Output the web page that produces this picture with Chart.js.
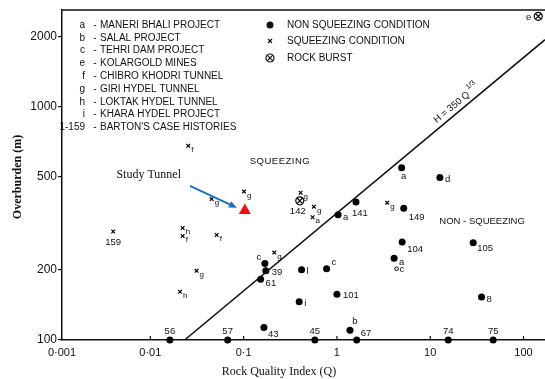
<!DOCTYPE html>
<html>
<head>
<meta charset="utf-8">
<script src="https://cdn.jsdelivr.net/npm/chart.js@4.4.0/dist/chart.umd.min.js"></script>
<style>
  html, body { margin: 0; padding: 0; background: #fff; }
</style>
</head>
<body>
<canvas id="chart" width="545" height="379"></canvas>
<script>
// ---- values ----
const xTicks = [0.00113, 0.01, 0.1, 1, 10, 100];
const xTickLabels = ['0·001', '0·01', '0·1', '1', '10', '100'];
const yTicks = [100, 200, 500, 1000, 2000];

// non squeezing condition (filled dots)
const nsQ = [4.94, 12.7, 1.6, 1.03, 5.2, 5.0, 28.9, 4.1, 0.173, 0.169, 0.152, 0.418, 0.775, 1.0, 0.394, 35.5, 0.165, 1.38, 0.58, 1.63, 15.6, 47.3, 0.0162, 0.0674];
const nsH = [548, 497, 391, 344, 367, 263, 261, 224, 198, 213, 182, 200, 202, 157, 146, 153, 113, 110, 100, 100, 100, 100, 100, 100];
const nsLbl = ['a', 'd', '141', 'a', '149', '104', '105', 'a', '39', 'c', '61', 'l', 'c', '101', 'i', '8', '43', 'b', '45', '67', '74', '75', '56', '57'];

// squeezing condition (x)
const sqQ = [0.0255, 0.101, 0.0454, 0.408, 0.567, 0.549, 3.46, 0.213, 0.0222, 0.0222, 0.0514, 0.004, 0.0313, 0.0208];
const sqH = [680, 433, 402, 428, 373, 336, 388, 237, 302, 279, 282, 292, 198, 161];
const sqLbl = ['f', 'g', 'g', 'g', 'g', 'a', 'g', 'g', 'h', 'f', 'f', '159', 'g', 'h'];

// rock burst
const rbQ = [0.40, 144];
const rbH = [395, 2443];
const rbLbl = ['142', 'e'];

// small open circle
const opQ = [4.36];
const opH = [202];
const opLbl = ['c'];

// study tunnel and its arrow
const stQ = [0.103];
const stH = [359];
const arrowQ = [0.0266, 0.0848];
const arrowH = [458, 369];

// H = 350 Q^1/3 line, ends as seen on the plot
const lineQ = [0.0233, 170];
const lineH = [100, 1940];

const legendLeft = [
  ['a', 'MANERI BHALI PROJECT'],
  ['b', 'SALAL PROJECT'],
  ['c', 'TEHRI DAM PROJECT'],
  ['e', 'KOLARGOLD MINES'],
  ['f', 'CHIBRO KHODRI TUNNEL'],
  ['g', 'GIRI HYDEL TUNNEL'],
  ['h', 'LOKTAK HYDEL TUNNEL'],
  ['i', 'KHARA HYDEL PROJECT'],
  ['1-159', "BARTON'S CASE HISTORIES"]
];
const legendRight = ['NON SQUEEZING CONDITION', 'SQUEEZING CONDITION', 'ROCK BURST'];

// label placement next to each mark: [dx, dy, align]
const nsOff = [[2, 9, 'center'], [5, 2, 'left'], [4, 11, 'center'], [5, 3, 'left'], [5, 9, 'left'],
  [5, 7, 'left'], [4, 6, 'left'], [5, 4, 'left'], [6, 2, 'left'], [-6, -6, 'center'], [5, 4, 'left'],
  [5, 2, 'left'], [5, -6, 'left'], [6, 1, 'left'], [5, 2, 'left'], [5, 2, 'left'], [4, 7, 'left'],
  [5, -9, 'center'], [0, -9, 'center'], [4, -7, 'left'], [0, -9, 'center'], [0, -9, 'center'],
  [0, -9, 'center'], [0, -9, 'center']];
const sqOff = sqLbl.map(l => l === '159' ? [0, 11, 'center', 9.5] : [3, 4, 'left', 8]);
const rbOff = [[-2, 11, 'center'], [-7, 1, 'right']];
const opOff = [[3, 1, 'left']];

function pts(q, h) {
  return q.map((v, i) => ({ x: v, y: h[i] }));
}

const INK = '#111';
const SANS = '"Liberation Sans", Arial, sans-serif';
const SERIF = '"Liberation Serif", "Times New Roman", serif';

const labelsPlugin = {
  id: 'pointLabels',
  afterDatasetsDraw(chart) {
    const ctx = chart.ctx;
    ctx.save();
    ctx.fillStyle = INK;
    ctx.textBaseline = 'middle';
    chart.data.datasets.forEach((ds, i) => {
      if (!ds.lbls) return;
      const meta = chart.getDatasetMeta(i);
      meta.data.forEach((el, j) => {
        const o = ds.offs[j];
        ctx.font = (o[3] || 9.5) + 'px ' + SANS;
        ctx.textAlign = o[2];
        ctx.fillText(ds.lbls[j], el.x + o[0], el.y + o[1]);
      });
    });

    // arrow pointing at the study tunnel
    const xs = chart.scales.x, ys = chart.scales.y;
    const x0 = xs.getPixelForValue(arrowQ[0]), y0 = ys.getPixelForValue(arrowH[0]);
    const x1 = xs.getPixelForValue(arrowQ[1]), y1 = ys.getPixelForValue(arrowH[1]);
    const ang = Math.atan2(y1 - y0, x1 - x0);
    ctx.strokeStyle = '#1f6fc5';
    ctx.fillStyle = '#1f6fc5';
    ctx.lineWidth = 2;
    ctx.beginPath();
    ctx.moveTo(x0, y0);
    ctx.lineTo(x1 - 5 * Math.cos(ang), y1 - 5 * Math.sin(ang));
    ctx.stroke();
    ctx.beginPath();
    ctx.moveTo(x1, y1);
    ctx.lineTo(x1 - 8 * Math.cos(ang) + 3.5 * Math.sin(ang), y1 - 8 * Math.sin(ang) - 3.5 * Math.cos(ang));
    ctx.lineTo(x1 - 8 * Math.cos(ang) - 3.5 * Math.sin(ang), y1 - 8 * Math.sin(ang) + 3.5 * Math.cos(ang));
    ctx.closePath();
    ctx.fill();

    ctx.fillStyle = INK;
    ctx.font = '12px ' + SERIF;
    ctx.textAlign = 'right';
    ctx.fillText('Study Tunnel', x0 - 9, y0 - 11);
    ctx.restore();
  },
  afterDraw(chart) {
    const ctx = chart.ctx;
    const a = chart.chartArea;
    const xs = chart.scales.x, ys = chart.scales.y;
    ctx.save();

    // top frame line
    ctx.strokeStyle = INK;
    ctx.lineWidth = 1.5;
    ctx.beginPath();
    ctx.moveTo(a.left, a.top);
    ctx.lineTo(a.right, a.top);
    ctx.stroke();

    // x ticks point inwards
    ctx.lineWidth = 1.2;
    xTicks.slice(1).forEach(v => {
      const px = xs.getPixelForValue(v);
      ctx.beginPath();
      ctx.moveTo(px, a.bottom);
      ctx.lineTo(px, a.bottom - 4);
      ctx.stroke();
    });

    // legend, left block
    ctx.fillStyle = INK;
    ctx.font = '10px ' + SANS;
    ctx.textBaseline = 'middle';
    legendLeft.forEach((row, i) => {
      const y = a.top + 15 + i * 12.8;
      ctx.textAlign = 'right';
      ctx.fillText(row[0], a.left + 23, y);
      ctx.textAlign = 'center';
      ctx.fillText('-', a.left + 33, y);
      ctx.textAlign = 'left';
      ctx.fillText(row[1], a.left + 38, y);
    });

    // legend, right block with symbols
    const sx = a.left + 208;
    const ry = [a.top + 15, a.top + 31, a.top + 48];
    legendRight.forEach((t, i) => {
      ctx.textAlign = 'left';
      ctx.fillText(t, a.left + 225, ry[i]);
    });
    ctx.beginPath();
    ctx.arc(sx, ry[0], 3.5, 0, Math.PI * 2);
    ctx.fill();
    ctx.lineWidth = 1.2;
    ctx.beginPath();
    ctx.moveTo(sx - 2, ry[1] - 2); ctx.lineTo(sx + 2, ry[1] + 2);
    ctx.moveTo(sx + 2, ry[1] - 2); ctx.lineTo(sx - 2, ry[1] + 2);
    ctx.stroke();
    ctx.beginPath();
    ctx.arc(sx, ry[2], 4, 0, Math.PI * 2);
    ctx.moveTo(sx - 2.8, ry[2] - 2.8); ctx.lineTo(sx + 2.8, ry[2] + 2.8);
    ctx.moveTo(sx + 2.8, ry[2] - 2.8); ctx.lineTo(sx - 2.8, ry[2] + 2.8);
    ctx.stroke();

    // zone names
    ctx.font = '9.5px ' + SANS;
    ctx.textAlign = 'center';
    if ('letterSpacing' in ctx) ctx.letterSpacing = '0.5px';
    ctx.fillText('SQUEEZING', xs.getPixelForValue(0.245), ys.getPixelForValue(586));
    if ('letterSpacing' in ctx) ctx.letterSpacing = '0px';
    ctx.fillText('NON - SQUEEZING', xs.getPixelForValue(36), ys.getPixelForValue(324));

    // line label, along the line
    const lx = xs.getPixelForValue(lineQ[0]), ly = ys.getPixelForValue(lineH[0]);
    const rx = xs.getPixelForValue(lineQ[1]), rY = ys.getPixelForValue(lineH[1]);
    const ang = Math.atan2(rY - ly, rx - lx);
    const t = 0.755;
    ctx.translate(lx + (rx - lx) * t, ly + (rY - ly) * t);
    ctx.rotate(ang);
    ctx.font = '9.5px ' + SANS;
    ctx.textAlign = 'center';
    ctx.textBaseline = 'alphabetic';
    ctx.fillText('H = 350 Q', 0, -5);
    ctx.font = '7px ' + SANS;
    ctx.textAlign = 'left';
    ctx.fillText('1/3', 24, -11);
    ctx.setTransform(1, 0, 0, 1, 0, 0);

    // axis titles
    ctx.font = '12px ' + SERIF;
    ctx.textAlign = 'center';
    ctx.textBaseline = 'middle';
    ctx.fillText('Rock Quality Index (Q)', 279, a.bottom + 32);
    ctx.translate(18, (a.top + a.bottom) / 2 + 2);
    ctx.rotate(-Math.PI / 2);
    ctx.font = 'bold 12px ' + SERIF;
    ctx.fillText('Overburden (m)', 0, 0);
    ctx.restore();
  }
};

const chart = new Chart(document.getElementById('chart'), {
  type: 'scatter',
  data: {
    datasets: [
      {
        data: pts(lineQ, lineH),
        showLine: true,
        borderColor: INK,
        borderWidth: 1.5,
        pointRadius: 0
      },
      {
        data: pts(nsQ, nsH),
        lbls: nsLbl, offs: nsOff,
        clip: 6,
        pointStyle: 'circle',
        pointRadius: 3.5,
        backgroundColor: '#000',
        borderColor: '#000',
        borderWidth: 0
      },
      {
        data: pts(opQ, opH),
        lbls: opLbl, offs: opOff,
        pointStyle: 'circle',
        pointRadius: 1.8,
        backgroundColor: '#fff',
        borderColor: '#000',
        borderWidth: 1
      },
      {
        data: pts(sqQ, sqH),
        lbls: sqLbl, offs: sqOff,
        pointStyle: 'crossRot',
        pointRadius: 2.6,
        borderColor: '#000',
        borderWidth: 1.2
      },
      {
        // cross drawn above the circle (earlier datasets sit on top)
        data: pts(rbQ, rbH),
        clip: 6,
        pointStyle: 'crossRot',
        pointRadius: 4,
        borderColor: '#000',
        borderWidth: 1.2
      },
      {
        data: pts(rbQ, rbH),
        lbls: rbLbl, offs: rbOff,
        clip: 6,
        pointStyle: 'circle',
        pointRadius: 4,
        backgroundColor: '#fff',
        borderColor: '#000',
        borderWidth: 1.2
      },
      {
        data: pts(stQ, stH),
        pointStyle: 'triangle',
        pointRadius: 7,
        backgroundColor: '#ee1111',
        borderColor: '#ee1111',
        borderWidth: 0
      }
    ]
  },
  options: {
    responsive: false,
    animation: false,
    layout: { autoPadding: false, padding: { top: 10, right: 0, left: 0, bottom: 0 } },
    plugins: { legend: { display: false }, tooltip: { enabled: false } },
    scales: {
      x: {
        type: 'logarithmic',
        min: 0.00113,
        max: 170,
        afterFit: s => { s.height = 39; s.paddingLeft = 0; s.paddingRight = 0; },
        afterBuildTicks: s => { s.ticks = xTicks.map(v => ({ value: v })); },
        grid: { display: false, drawTicks: false },
        border: { display: true, color: INK, width: 1.5 },
        ticks: {
          padding: 6,
          autoSkip: false,
          maxRotation: 0,
          color: INK,
          font: { family: SANS, size: 11 },
          callback: (v, i) => xTickLabels[i]
        }
      },
      y: {
        type: 'logarithmic',
        min: 100,
        max: 2600,
        afterFit: s => { s.width = 62; s.paddingTop = 0; s.paddingBottom = 0; },
        afterBuildTicks: s => { s.ticks = yTicks.map(v => ({ value: v })); },
        grid: { display: true, drawOnChartArea: false, drawTicks: true, tickLength: 4, color: INK, lineWidth: 1.2 },
        border: { display: true, color: INK, width: 1.5 },
        ticks: {
          padding: 1,
          autoSkip: false,
          color: INK,
          font: { family: SANS, size: 12 },
          callback: (v, i) => String(yTicks[i])
        }
      }
    }
  },
  plugins: [labelsPlugin]
});
</script>
</body>
</html>
